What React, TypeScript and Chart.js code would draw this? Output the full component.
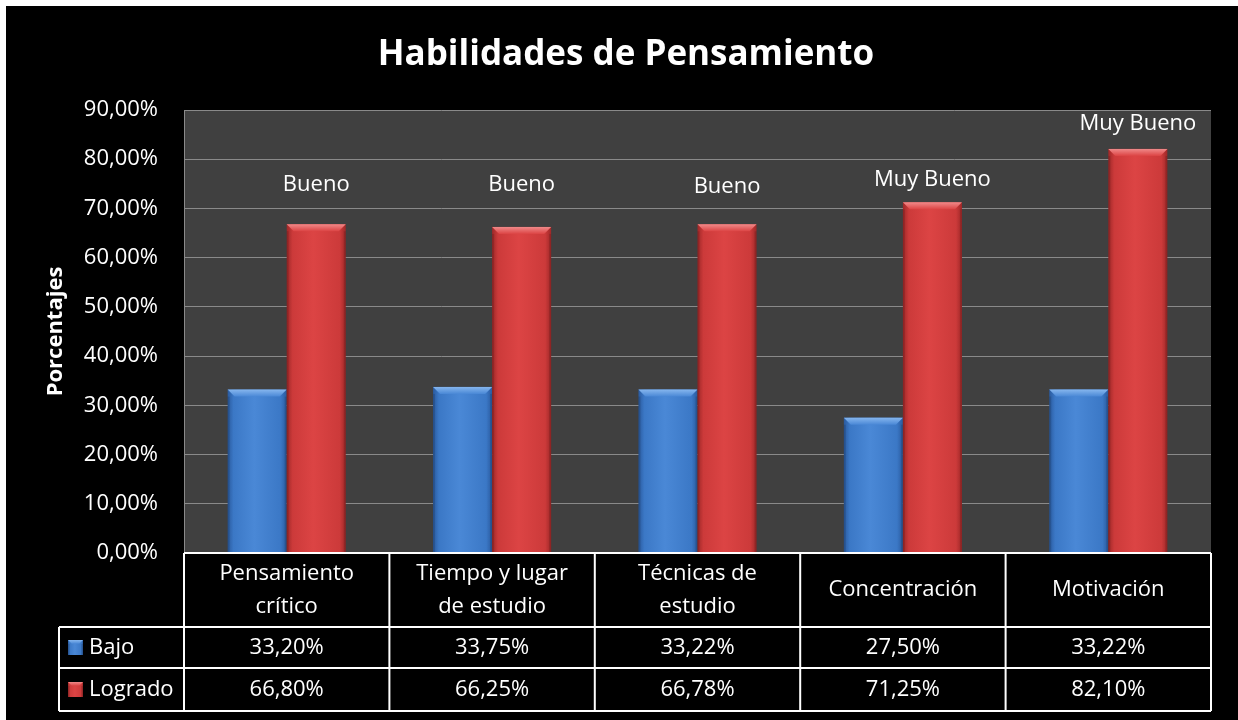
import React, { useEffect, useRef } from "react";
import { Chart, registerables } from "chart.js";

Chart.register(...registerables);

const FONT = '"Open Sans", "DejaVu Sans", sans-serif';

// ---- Data ----
const categories: string[][] = [
  ["Pensamiento", "crítico"],
  ["Tiempo y lugar", "de estudio"],
  ["Técnicas de", "estudio"],
  ["Concentración"],
  ["Motivación"],
];
const seriesNames = ["Bajo", "Logrado"];
const bajo = [33.2, 33.75, 33.22, 27.5, 33.22];
const logrado = [66.8, 66.25, 66.78, 71.25, 82.1];
const ratingLabels = ["Bueno", "Bueno", "Bueno", "Muy Bueno", "Muy Bueno"];
const ratingLabelLevel = [74.8, 74.8, 74.4, 75.8, 87.2];
const yMax = 90;
const yStep = 10;
const titleText = "Habilidades de Pensamiento";
const yTitle = "Porcentajes";

type Pal = { edge: string; mid: string; light: string; top: string; side: string };
const palettes: Pal[] = [
  { edge: "#2a5a9e", mid: "#3b78c6", light: "#4a88d6", top: "#86b6ee", side: "#3068b2" },
  { edge: "#9e2828", mid: "#cc3a3a", light: "#dc4444", top: "#f08a8a", side: "#b43030" },
];

const fmt = (v: number) => v.toFixed(2).replace(".", ",") + "%";

function drawBevelBar(ctx: CanvasRenderingContext2D, left: number, top: number, w: number, bottom: number, pal: Pal) {
  const h = bottom - top;
  if (h <= 0) return;
  const g = ctx.createLinearGradient(left, 0, left + w, 0);
  g.addColorStop(0, pal.edge);
  g.addColorStop(0.1, pal.mid);
  g.addColorStop(0.45, pal.light);
  g.addColorStop(0.9, pal.mid);
  g.addColorStop(1, pal.edge);
  ctx.fillStyle = g;
  ctx.fillRect(left, top, w, h);
  const b = Math.min(7, h / 2, w / 4);
  ctx.beginPath();
  ctx.moveTo(left, top);
  ctx.lineTo(left + w, top);
  ctx.lineTo(left + w - b, top + b);
  ctx.lineTo(left + b, top + b);
  ctx.closePath();
  const tg = ctx.createLinearGradient(0, top, 0, top + b);
  tg.addColorStop(0, pal.top);
  tg.addColorStop(1, pal.light);
  ctx.fillStyle = tg;
  ctx.fill();
  ctx.fillStyle = "rgba(0,0,0,0.12)";
  ctx.fillRect(left, top + b, 2, h - b);
  ctx.fillRect(left + w - 2, top + b, 2, h - b);
}

const layoutRows = { header: 74, row1: 41, row2: 43, legendLeft: 59 };

const customPlugin = {
  id: "custom",
  beforeDraw(chart: any) {
    const { ctx, chartArea } = chart;
    ctx.save();
    ctx.fillStyle = "#ffffff";
    ctx.fillRect(0, 0, chart.width, chart.height);
    ctx.fillStyle = "#000000";
    ctx.fillRect(6, 6, chart.width - 6, chart.height - 6);
    ctx.fillStyle = "#404040";
    ctx.fillRect(chartArea.left, chartArea.top, chartArea.right - chartArea.left, chartArea.bottom - chartArea.top);
    ctx.fillStyle = "#ffffff";
    ctx.font = `bold 35px ${FONT}`;
    ctx.textAlign = "center";
    ctx.textBaseline = "middle";
    ctx.fillText(titleText, 626, 55);
    ctx.restore();
  },
  afterDatasetsDraw(chart: any) {
    const { ctx } = chart;
    const yScale = chart.scales.y;
    ctx.save();
    chart.data.datasets.forEach((_ds: any, di: number) => {
      const meta = chart.getDatasetMeta(di);
      meta.data.forEach((el: any) => {
        const p = el.getProps(["x", "y", "base", "width"], true);
        drawBevelBar(ctx, p.x - p.width / 2, p.y, p.width, p.base, palettes[di]);
      });
    });
    const meta1 = chart.getDatasetMeta(1);
    ctx.fillStyle = "#ffffff";
    ctx.font = `22px ${FONT}`;
    ctx.textAlign = "center";
    ctx.textBaseline = "middle";
    meta1.data.forEach((el: any, i: number) => {
      ctx.fillText(ratingLabels[i], el.x, yScale.getPixelForValue(ratingLabelLevel[i]));
    });
    ctx.restore();
  },
  afterDraw(chart: any) {
    const { ctx, chartArea } = chart;
    const left = chartArea.left;
    const right = chartArea.right;
    const n = categories.length;
    const cw = (right - left) / n;
    const y0 = chartArea.bottom;
    const y1 = y0 + layoutRows.header;
    const y2 = y1 + layoutRows.row1;
    const y3 = y2 + layoutRows.row2;
    const lx = layoutRows.legendLeft;
    ctx.save();
    ctx.fillStyle = "#000000";
    ctx.fillRect(left, y0 + 1, right - left, y3 - y0);
    ctx.fillRect(lx, y1, left - lx, y3 - y1);
    ctx.strokeStyle = "#ffffff";
    ctx.lineWidth = 2;
    ctx.beginPath();
    ctx.moveTo(left, y0);
    ctx.lineTo(right, y0);
    [y1, y2, y3].forEach((y) => {
      ctx.moveTo(lx, y);
      ctx.lineTo(right, y);
    });
    ctx.moveTo(lx, y1);
    ctx.lineTo(lx, y3);
    for (let i = 0; i <= n; i++) {
      const x = left + i * cw;
      ctx.moveTo(x, y0);
      ctx.lineTo(x, y3);
    }
    ctx.stroke();

    ctx.fillStyle = "#ffffff";
    ctx.font = `22px ${FONT}`;
    ctx.textAlign = "center";
    ctx.textBaseline = "middle";
    const lh = 33;
    categories.forEach((lines, i) => {
      const cx = left + (i + 0.5) * cw;
      const cy = (y0 + y1) / 2;
      lines.forEach((t, k) => {
        ctx.fillText(t, cx, cy + (k - (lines.length - 1) / 2) * lh);
      });
      ctx.fillText(fmt(bajo[i]), cx, (y1 + y2) / 2);
      ctx.fillText(fmt(logrado[i]), cx, (y2 + y3) / 2);
    });
    const rows = [(y1 + y2) / 2, (y2 + y3) / 2];
    rows.forEach((cy, r) => {
      const s = 15;
      drawBevelBar(ctx, lx + 9, cy - s / 2, s, cy + s / 2, palettes[r]);
      ctx.fillStyle = "#ffffff";
      ctx.textAlign = "left";
      ctx.fillText(seriesNames[r], lx + 30, cy);
    });
    ctx.restore();
  },
};

export default function App() {
  const ref = useRef<HTMLCanvasElement>(null);
  useEffect(() => {
    const chart = new Chart(ref.current!, {
      type: "bar",
      data: {
        labels: categories.map((c) => c.join(" ")),
        datasets: [
          { label: seriesNames[0], data: bajo, backgroundColor: "rgba(0,0,0,0)", borderWidth: 0 },
          { label: seriesNames[1], data: logrado, backgroundColor: "rgba(0,0,0,0)", borderWidth: 0 },
        ],
      },
      options: {
        responsive: false,
        animation: false,
        devicePixelRatio: 1,
        layout: { padding: { left: 0, top: 110, right: 27, bottom: 167 } },
        datasets: { bar: { barPercentage: 1, categoryPercentage: 0.575 } },
        plugins: { legend: { display: false }, tooltip: { enabled: false }, title: { display: false } },
        scales: {
          x: { display: false, offset: true, grid: { display: false } },
          y: {
            min: 0,
            max: yMax,
            afterFit: (s: any) => {
              s.width = 184;
            },
            ticks: {
              stepSize: yStep,
              color: "#ffffff",
              padding: 26,
              font: { family: FONT, size: 22 },
              callback: (v: any) => fmt(Number(v)),
            },
            grid: { color: "#8a8a8a", lineWidth: 1, drawTicks: false },
            border: { display: true, color: "#8a8a8a", width: 1 },
            title: {
              display: true,
              text: yTitle,
              color: "#ffffff",
              font: { family: FONT, size: 22, weight: "bold" },
              padding: { top: 43, bottom: 0 },
            },
          },
        },
      },
      plugins: [customPlugin],
    });
    return () => chart.destroy();
  }, []);
  return (
    <div style={{ position: "absolute", left: 0, top: 0, width: 1238, height: 720 }}>
      <canvas ref={ref} width={1238} height={720} style={{ display: "block", width: 1238, height: 720 }} />
    </div>
  );
}
